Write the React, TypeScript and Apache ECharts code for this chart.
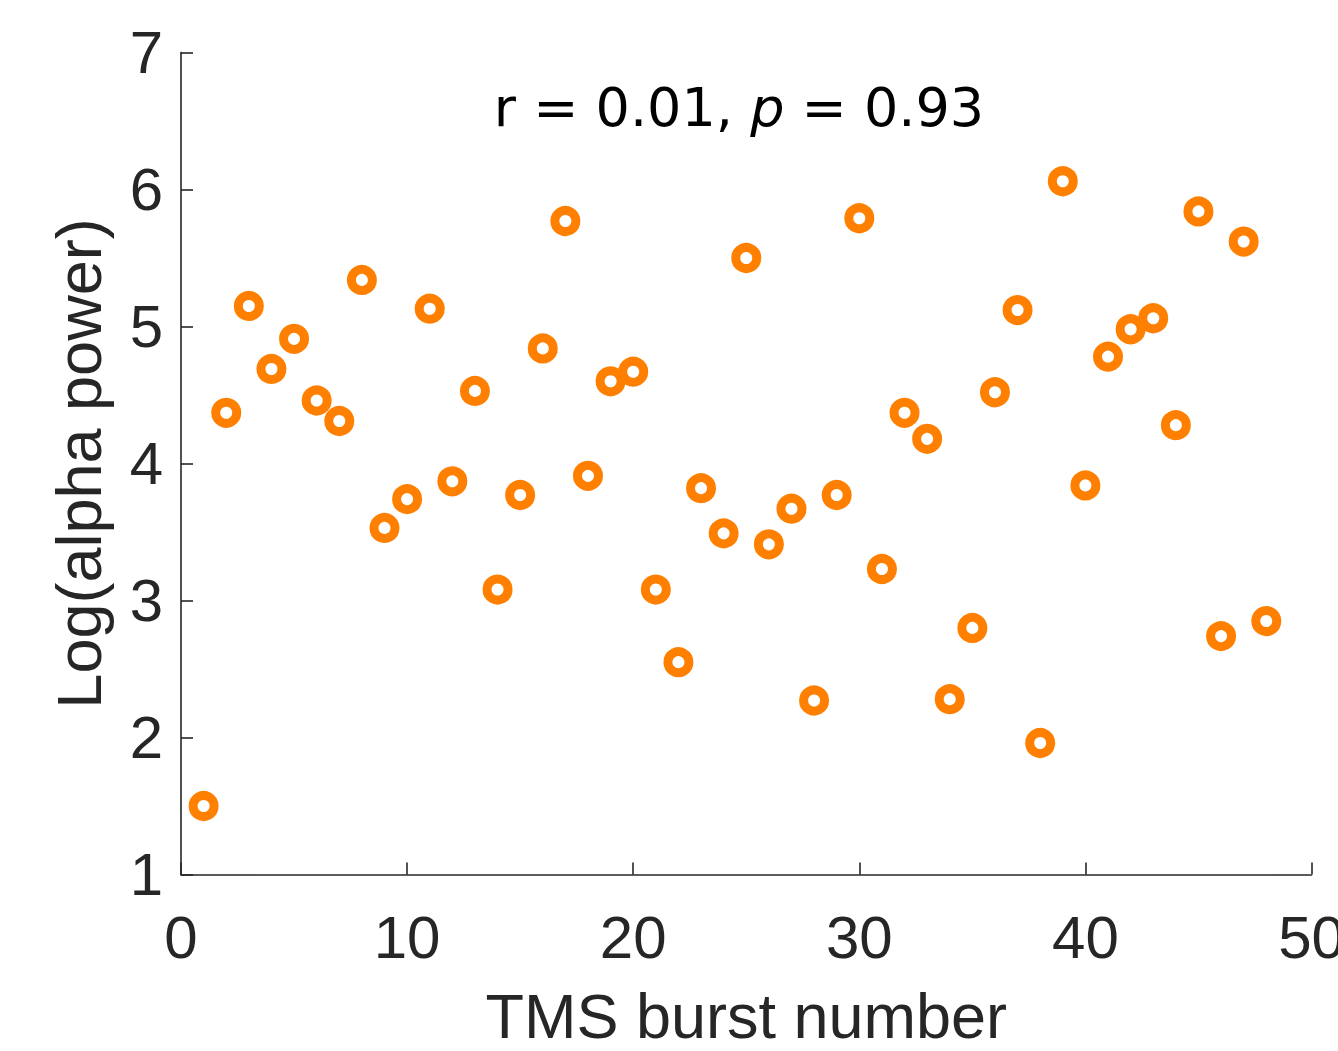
import React, { useEffect, useRef } from "react";
import * as echarts from "echarts";

const burstNumbers = [
  1, 2, 3, 4, 5, 6, 7, 8, 9, 10, 11, 12, 13, 14, 15, 16, 17, 18, 19, 20, 21, 22, 23, 24,
  25, 26, 27, 28, 29, 30, 31, 32, 33, 34, 35, 36, 37, 38, 39, 40, 41, 42, 43, 44, 45, 46, 47, 48,
];
const alphaPower = [
  1.5, 4.37, 5.15, 4.69, 4.91, 4.46, 4.31, 5.34, 3.53, 3.74, 5.13, 3.87, 4.53, 3.08, 3.77, 4.84,
  5.77, 3.91, 4.6, 4.67, 3.08, 2.55, 3.82, 3.49, 5.5, 3.41, 3.67, 2.27, 3.77, 5.79, 3.23, 4.37,
  4.18, 2.28, 2.8, 4.52, 5.12, 1.96, 6.06, 3.84, 4.78, 4.98, 5.06, 4.28, 5.84, 2.74, 5.62, 2.85,
];
const xRange = [0, 50, 10];
const yRange = [1, 7, 1];
const xLabel = "TMS burst number";
const yLabel = "Log(alpha power)";
const statR = "0.01";
const statP = "0.93";

const AXIS = "#262626";
const FONT = "'Liberation Sans', Arial, Helvetica, sans-serif";

export default function App() {
  const ref = useRef<HTMLDivElement>(null);
  useEffect(() => {
    if (!ref.current) return;
    const chart = echarts.init(ref.current, null, { renderer: "svg" });
    const axisCommon = {
      type: "value" as const,
      axisLine: { show: true, lineStyle: { color: AXIS, width: 1.6 } },
      axisTick: { show: true, inside: true, length: 12, lineStyle: { color: AXIS, width: 1.6 } },
      splitLine: { show: false },
      nameLocation: "middle" as const,
    };
    chart.setOption({
      animation: false,
      backgroundColor: "#ffffff",
      grid: {
        left: 181,
        right: 26.5,
        top: 52.5,
        bottom: 176.5,
        containLabel: false,
        outerBoundsMode: "none",
      },
      xAxis: {
        ...axisCommon,
        min: xRange[0],
        max: xRange[1],
        interval: xRange[2],
        name: xLabel,
        nameGap: 110,
        nameTextStyle: { fontFamily: FONT, fontSize: 63, color: AXIS },
        axisLabel: { fontFamily: FONT, fontSize: 60, color: AXIS, margin: 33 },
      },
      yAxis: {
        ...axisCommon,
        min: yRange[0],
        max: yRange[1],
        interval: yRange[2],
        name: yLabel,
        nameGap: 71,
        nameRotate: 90,
        nameTextStyle: { fontFamily: FONT, fontSize: 63, color: AXIS },
        axisLabel: { fontFamily: FONT, fontSize: 60, color: AXIS, margin: 18 },
      },
      graphic: [
        {
          type: "text",
          x: 739,
          y: 107,
          style: {
            text: `{n|r = ${statR}, }{i|p}{n| = ${statP}}`,
            align: "center",
            verticalAlign: "middle",
            rich: {
              n: { fontFamily: "'DejaVu Sans', Verdana, sans-serif", fontSize: 54, fill: "#000" },
              i: {
                fontFamily: "'DejaVu Sans', Verdana, sans-serif",
                fontSize: 54,
                fontStyle: "italic",
                fill: "#000",
              },
            },
          },
        },
      ],
      series: [
        {
          type: "scatter",
          data: burstNumbers.map((b, i) => [b, alphaPower[i]]),
          symbol: "circle",
          symbolSize: 21,
          itemStyle: {
            color: "rgba(255,255,255,0)",
            borderColor: "#FF8000",
            borderWidth: 9,
            opacity: 1,
          },
          clip: false,
        },
      ],
    });
    return () => chart.dispose();
  }, []);
  return (
    <div
      ref={ref}
      style={{ position: "absolute", left: 0, top: 0, width: 1338, height: 1051 }}
    />
  );
}
